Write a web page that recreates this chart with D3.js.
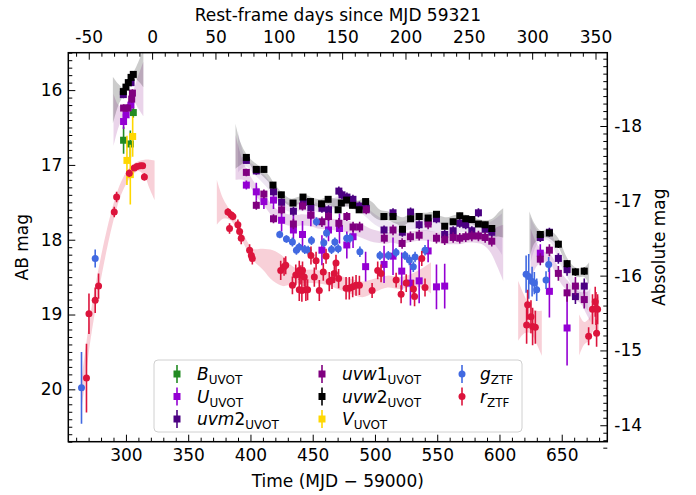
<!DOCTYPE html>
<html>
<head>
<meta charset="utf-8">
<script src="https://cdn.jsdelivr.net/npm/d3@7"></script>
<style>
  body { margin: 0; background: #fff; }
  text { font-family: "DejaVu Sans", sans-serif; fill: #000; }
</style>
</head>
<body>
<svg id="chart" width="696" height="495"></svg>
<script>
'use strict'

// DATA: [MJD - 59000, AB mag, error]
const B_UVOT = [[298.1, 16.67, 0.18], [303.5, 16.72, 0.18], [305.9, 16.30, 0.07]]
const U_UVOT = [
  [298.1, 16.42, 0.1], [300.1, 16.33, 0.07], [304.0, 16.20, 0.08],
  [396.7, 17.27, 0.06], [404.7, 17.36, 0.12], [410.8, 17.49, 0.1], [418.5, 17.47, 0.12],
  [425.0, 17.74, 0.15], [434.5, 17.87, 0.2], [441.8, 17.93, 0.18], [448.5, 17.67, 0.15],
  [457.4, 18.14, 0.2], [462.7, 17.87, 0.15], [471.5, 17.85, 0.2], [477.4, 18.07, 0.18],
  [482.4, 17.96, 0.15], [492.5, 18.36, 0.2], [507.3, 18.33, 0.25], [514.5, 18.22, 0.25],
  [521.5, 18.42, 0.25], [528.5, 18.58, 0.3], [535.5, 18.55, 0.3], [542.7, 18.15, 0.15],
  [549.4, 18.63, 0.3], [556.0, 18.62, 0.3],
  [632.8, 18.18, 0.12], [640.1, 18.69, 0.35], [654.3, 19.18, 0.5]
]
const UVM2_UVOT = [
  [297.9, 16.06, 0.05], [304.1, 15.90, 0.05],
  [396.7, 16.94, 0.04], [404.7, 17.08, 0.05], [418.5, 17.36, 0.05], [425.0, 17.50, 0.05],
  [434.5, 17.62, 0.06], [442.5, 17.50, 0.05], [448.5, 17.57, 0.05], [457.4, 17.58, 0.06],
  [462.7, 17.60, 0.06], [471.0, 17.35, 0.06], [473.5, 17.40, 0.06], [477.5, 17.43, 0.06],
  [482.3, 17.46, 0.06], [487.5, 17.55, 0.06], [493.0, 17.58, 0.06], [507.3, 17.87, 0.06],
  [514.5, 17.64, 0.06], [522.0, 17.90, 0.06], [528.6, 17.63, 0.06], [535.5, 17.80, 0.06],
  [542.7, 17.76, 0.06], [549.4, 17.72, 0.06], [556.0, 17.93, 0.06], [562.8, 17.88, 0.06],
  [568.1, 17.78, 0.06], [572.9, 17.80, 0.06], [577.8, 17.88, 0.06], [583.1, 17.64, 0.06],
  [588.5, 17.86, 0.06], [593.8, 17.90, 0.06],
  [632.8, 17.97, 0.06], [640.1, 17.90, 0.06], [647.3, 18.25, 0.07], [654.3, 18.40, 0.08],
  [661.0, 18.76, 0.1], [668.1, 18.62, 0.1]
]
const UVW1_UVOT = [
  [298.1, 16.24, 0.05], [301.3, 16.24, 0.05], [304.6, 16.12, 0.05], [305.2, 16.04, 0.05],
  [396.7, 17.10, 0.05], [404.7, 17.54, 0.06], [410.8, 17.39, 0.06], [418.5, 17.72, 0.06],
  [425.0, 17.60, 0.06], [434.5, 17.79, 0.07], [441.8, 17.55, 0.06], [448.5, 17.67, 0.06],
  [457.4, 17.76, 0.07], [462.7, 17.69, 0.06], [471.0, 17.78, 0.07], [477.4, 17.69, 0.06],
  [482.4, 17.83, 0.07], [487.7, 17.83, 0.07], [493.0, 17.60, 0.06], [507.5, 17.98, 0.07],
  [514.5, 17.87, 0.07], [521.8, 18.05, 0.07], [528.5, 17.96, 0.07], [535.5, 17.94, 0.07],
  [542.7, 17.79, 0.07], [549.4, 17.98, 0.07], [556.0, 18.00, 0.07], [562.8, 17.97, 0.07],
  [568.1, 17.98, 0.07], [572.9, 17.96, 0.07], [577.8, 17.95, 0.07], [583.1, 17.95, 0.07],
  [588.5, 17.97, 0.07], [593.8, 18.02, 0.07],
  [632.8, 18.26, 0.08], [640.1, 18.14, 0.08], [647.3, 18.45, 0.1], [654.3, 18.71, 0.12],
  [661.0, 18.62, 0.12], [668.1, 18.80, 0.12]
]
const UVW2_UVOT = [
  [297.9, 16.02, 0.04], [300.0, 15.96, 0.04], [301.9, 15.90, 0.04], [304.1, 15.83, 0.04], [305.9, 15.79, 0.04],
  [396.7, 16.90, 0.04], [404.7, 17.06, 0.04], [410.8, 17.06, 0.04], [418.1, 17.27, 0.04],
  [424.8, 17.40, 0.04], [434.2, 17.51, 0.04], [442.2, 17.43, 0.04], [448.2, 17.49, 0.04],
  [457.1, 17.52, 0.04], [462.4, 17.46, 0.04], [470.4, 17.60, 0.04], [473.0, 17.51, 0.04],
  [477.2, 17.47, 0.04], [482.0, 17.54, 0.04], [487.3, 17.60, 0.04], [492.5, 17.49, 0.04],
  [507.2, 17.69, 0.04], [514.5, 17.69, 0.04], [522.1, 17.86, 0.04], [528.6, 17.72, 0.04],
  [535.5, 17.69, 0.04], [542.7, 17.71, 0.04], [549.4, 17.66, 0.04], [556.0, 17.82, 0.04],
  [562.8, 17.76, 0.04], [568.1, 17.68, 0.04], [572.9, 17.72, 0.04], [577.8, 17.73, 0.04],
  [583.1, 17.79, 0.04], [588.5, 17.80, 0.04], [593.8, 17.85, 0.04],
  [632.8, 17.93, 0.04], [640.1, 17.91, 0.04], [647.3, 18.06, 0.05], [654.3, 18.32, 0.05],
  [661.0, 18.43, 0.05], [668.1, 18.42, 0.05]
]
const V_UVOT = [[300.8, 16.94, 0.33], [303.5, 17.13, 0.4], [305.4, 16.62, 0.27]]
const g_ZTF = [
  [264.3, 19.98, 0.48], [275.3, 18.25, 0.12],
  [423.5, 17.93, 0.05], [428.9, 17.99, 0.05], [433.7, 18.03, 0.06], [436.9, 18.14, 0.06],
  [439.1, 18.10, 0.06], [443.6, 18.13, 0.06], [446.3, 18.14, 0.06], [449.0, 18.01, 0.06],
  [453.0, 17.76, 0.06], [458.9, 18.04, 0.06], [461.1, 17.91, 0.06], [465.1, 18.13, 0.06],
  [467.8, 18.03, 0.06], [470.5, 18.12, 0.06], [477.3, 17.98, 0.06], [479.9, 17.98, 0.06],
  [487.9, 18.16, 0.07], [504.0, 18.21, 0.06], [510.7, 18.21, 0.06], [516.9, 18.17, 0.06],
  [524.1, 18.21, 0.06], [527.6, 18.27, 0.07], [530.8, 18.36, 0.07], [532.2, 18.23, 0.07],
  [540.2, 18.14, 0.07],
  [621.4, 18.46, 0.25], [623.5, 18.49, 0.3], [626.2, 18.56, 0.2], [628.0, 18.58, 0.15],
  [629.9, 18.67, 0.15], [637.4, 18.54, 0.12], [639.5, 18.33, 0.1]
]
const r_ZTF = [
  [268.3, 19.85, 0.46], [270.3, 18.99, 0.27], [275.3, 18.81, 0.17], [278.0, 18.62, 0.17],
  [290.6, 17.63, 0.07], [292.5, 17.43, 0.07], [302.7, 17.11, 0.05], [306.7, 17.04, 0.04],
  [308.9, 17.02, 0.03], [311.6, 17.01, 0.03], [313.4, 17.01, 0.03], [314.8, 17.16, 0.05],
  [381.9, 17.63, 0.05], [383.2, 17.85, 0.07], [384.6, 17.67, 0.05], [385.9, 17.69, 0.05],
  [389.9, 17.80, 0.07], [391.3, 17.89, 0.07], [392.6, 17.98, 0.08], [399.3, 18.14, 0.08],
  [400.7, 18.21, 0.08], [401.5, 18.25, 0.08], [424.3, 18.41, 0.13], [427.0, 18.36, 0.12],
  [428.3, 18.34, 0.12], [433.7, 18.61, 0.12], [436.4, 18.47, 0.14], [439.2, 18.41, 0.13],
  [439.2, 18.67, 0.15], [440.5, 18.47, 0.13], [441.3, 18.68, 0.15], [441.8, 18.41, 0.12],
  [443.2, 18.50, 0.13], [444.5, 18.67, 0.15], [445.9, 18.67, 0.14], [448.6, 18.21, 0.12],
  [451.3, 18.50, 0.13], [452.7, 18.28, 0.12], [455.3, 18.68, 0.14], [458.5, 18.43, 0.12],
  [460.7, 18.22, 0.1], [463.3, 18.56, 0.13], [465.5, 18.54, 0.12], [467.4, 18.45, 0.13],
  [468.7, 18.31, 0.11], [470.8, 18.52, 0.13], [476.8, 18.65, 0.15], [479.4, 18.65, 0.15],
  [482.1, 18.63, 0.14], [484.8, 18.61, 0.14], [487.5, 18.61, 0.13], [497.7, 18.68, 0.1],
  [502.2, 18.41, 0.12], [504.9, 18.45, 0.12], [517.0, 18.54, 0.1], [521.0, 18.73, 0.12],
  [525.1, 18.58, 0.12], [530.9, 18.66, 0.12], [531.8, 18.76, 0.13], [537.6, 18.25, 0.1],
  [540.2, 18.64, 0.12],
  [621.8, 19.14, 0.25], [622.6, 18.87, 0.2], [625.3, 19.03, 0.22], [626.6, 19.16, 0.25],
  [628.8, 19.17, 0.22], [671.6, 19.29, 0.12], [674.7, 18.93, 0.2], [676.9, 18.83, 0.2],
  [677.5, 18.92, 0.22], [678.0, 19.25, 0.18], [678.8, 18.93, 0.2]
]

// MODEL BANDS: [MJD - 59000, upper mag, lower mag]
const rBands = [
  [[264.5, 19.85, 20.25], [268, 19.4, 19.8], [271, 19.05, 19.4], [275, 18.65, 18.98], [280, 18.22, 18.52],
   [285, 17.84, 18.1], [290, 17.52, 17.74], [295, 17.27, 17.45], [300, 17.1, 17.26], [305, 17.0, 17.14],
   [310, 16.95, 17.08], [315, 16.93, 17.15], [319, 16.93, 17.32], [323, 16.94, 17.47]],
  [[373, 17.2, 17.8], [378, 17.45, 17.72], [384, 17.62, 17.74], [390, 17.78, 17.9], [396, 17.98, 18.1],
   [402, 18.12, 18.27], [410, 18.12, 18.4], [418, 18.14, 18.55], [426, 18.22, 18.62], [432, 18.33, 18.6],
   [440, 18.4, 18.58], [450, 18.4, 18.58], [460, 18.42, 18.6], [470, 18.47, 18.66], [480, 18.52, 18.72],
   [490, 18.56, 18.77], [500, 18.52, 18.7], [510, 18.48, 18.64], [520, 18.5, 18.66], [530, 18.45, 18.63],
   [538, 18.38, 18.64], [545, 18.3, 18.72]],
  [[615, 18.55, 19.35], [620, 18.75, 19.25], [625, 18.9, 19.25], [630, 18.95, 19.4], [634, 18.95, 19.55]],
  [[664, 19.0, 19.55], [668, 19.1, 19.4], [672, 19.05, 19.35], [676, 18.85, 19.2], [680, 18.75, 19.3]]
]
const uvw2Bands = [
  [[289.5, 15.82, 16.45], [294, 15.92, 16.2], [298, 15.97, 16.07], [302, 15.87, 15.93], [306, 15.76, 15.84],
   [310, 15.62, 15.88], [314, 15.45, 15.96]],
  [[388, 16.45, 17.05], [392, 16.7, 17.0], [397, 16.86, 16.95], [402, 16.95, 17.05], [408, 17.03, 17.12],
   [414, 17.12, 17.22], [420, 17.27, 17.37], [426, 17.38, 17.48], [432, 17.45, 17.55], [438, 17.43, 17.53],
   [444, 17.4, 17.5], [450, 17.44, 17.54], [456, 17.46, 17.56], [462, 17.43, 17.53], [468, 17.45, 17.57],
   [474, 17.45, 17.55], [480, 17.46, 17.56], [486, 17.48, 17.6], [492, 17.45, 17.58], [498, 17.5, 17.68],
   [504, 17.6, 17.74], [510, 17.62, 17.74], [516, 17.66, 17.78], [522, 17.7, 17.82], [528, 17.66, 17.76],
   [534, 17.64, 17.74], [540, 17.64, 17.74], [546, 17.63, 17.73], [552, 17.68, 17.78], [558, 17.7, 17.8],
   [564, 17.67, 17.77], [570, 17.66, 17.76], [576, 17.68, 17.78], [582, 17.72, 17.82], [588, 17.74, 17.86],
   [594, 17.72, 17.95], [600, 17.62, 17.96], [603, 17.58, 17.97]],
  [[624, 17.62, 18.25], [628, 17.78, 18.05], [633, 17.88, 17.98], [638, 17.87, 17.97], [643, 17.9, 18.02],
   [648, 18.0, 18.12], [653, 18.2, 18.32], [658, 18.33, 18.45], [663, 18.38, 18.5], [668, 18.37, 18.5],
   [672, 18.3, 18.6]]
]
const uvw1Bands = [
  [[290, 16.05, 16.75], [294, 16.2, 16.5], [298, 16.22, 16.35], [302, 16.15, 16.25], [306, 16.0, 16.15],
   [310, 15.8, 16.25], [314, 15.62, 16.35]],
  [[388, 16.6, 17.2], [394, 16.95, 17.2], [400, 17.15, 17.3], [406, 17.3, 17.45], [412, 17.42, 17.57],
   [418, 17.55, 17.7], [424, 17.62, 17.77], [430, 17.66, 17.81], [436, 17.67, 17.82], [442, 17.66, 17.81],
   [448, 17.67, 17.82], [454, 17.7, 17.85], [460, 17.71, 17.86], [466, 17.72, 17.87], [472, 17.74, 17.89],
   [478, 17.74, 17.9], [484, 17.78, 17.94], [490, 17.8, 17.98], [496, 17.85, 18.02], [502, 17.88, 18.04],
   [508, 17.9, 18.05], [514, 17.9, 18.04], [520, 17.92, 18.06], [526, 17.9, 18.04], [532, 17.88, 18.02],
   [538, 17.87, 18.01], [544, 17.88, 18.02], [550, 17.9, 18.04], [556, 17.92, 18.06], [562, 17.92, 18.06],
   [568, 17.92, 18.06], [574, 17.9, 18.04], [580, 17.9, 18.04], [586, 17.9, 18.06], [592, 17.88, 18.15],
   [598, 17.83, 18.35], [603, 17.8, 18.55]],
  [[625, 17.85, 18.55], [630, 18.05, 18.35], [635, 18.15, 18.3], [640, 18.18, 18.3], [645, 18.3, 18.45],
   [650, 18.45, 18.6], [655, 18.55, 18.7], [660, 18.65, 18.8], [665, 18.7, 18.85], [670, 18.7, 19.0],
   [673, 18.65, 19.1]]
]
const uvm2Bands = [
  [[390, 16.55, 17.1], [396, 16.9, 17.02], [404, 17.02, 17.14], [412, 17.15, 17.28], [420, 17.32, 17.45],
   [430, 17.5, 17.62], [440, 17.5, 17.62], [450, 17.5, 17.62], [460, 17.52, 17.64], [470, 17.42, 17.56],
   [480, 17.44, 17.58], [490, 17.52, 17.66], [500, 17.66, 17.8], [510, 17.75, 17.88], [520, 17.76, 17.9],
   [530, 17.72, 17.86], [540, 17.74, 17.88], [550, 17.76, 17.9], [560, 17.8, 17.94], [570, 17.76, 17.9],
   [580, 17.76, 17.9], [590, 17.78, 17.95], [602, 17.65, 18.2]],
  [[625, 17.7, 18.3], [632, 17.9, 18.02], [640, 17.9, 18.02], [648, 18.15, 18.3], [656, 18.4, 18.55],
   [664, 18.6, 18.78], [671, 18.55, 18.95]]
]

// AXIS CONSTANTS
const xDomain = [253.7, 686.6]
const yDomain = [15.5, 20.7]
const bottomTicks = [300, 350, 400, 450, 500, 550, 600, 650]
const topTicks = [-50, 0, 50, 100, 150, 200, 250, 300, 350]
const leftTicks = [16, 17, 18, 19, 20]
const rightTicks = [-18, -17, -16, -15, -14]
const refMJD = 321
const redshift = 0.0175
const distMod = 34.48

// CHART FRAME
const frame = {left: 68.3, right: 607.3, top: 52.7, bottom: 441.7}
const fontSize = 17

const xScale = d3.scaleLinear(xDomain, [frame.left, frame.right])
const yScale = d3.scaleLinear(yDomain, [frame.top, frame.bottom])
const xTopScale = d3.scaleLinear(xDomain.map(d => (d - refMJD) / (1 + redshift)), [frame.left, frame.right])
const yAbsScale = d3.scaleLinear(yDomain.map(d => d - distMod), [frame.top, frame.bottom])

const svg = d3.select('#chart')

svg.append('defs').append('clipPath').attr('id', 'plot-clip')
  .append('rect')
  .attr('x', frame.left).attr('y', frame.top)
  .attr('width', frame.right - frame.left).attr('height', frame.bottom - frame.top)

const plot = svg.append('g').attr('clip-path', 'url(#plot-clip)')

// DRAW MODEL BANDS
const area = d3.area()
  .x(d => xScale(d[0]))
  .y0(d => yScale(d[1]))
  .y1(d => yScale(d[2]))
  .curve(d3.curveCatmullRom)

function drawBands(bands, color, opacity) {
  plot.append('g')
    .selectAll('path')
    .data(bands)
    .enter()
    .append('path')
    .attr('d', area)
    .style('fill', color)
    .style('fill-opacity', opacity)
}

drawBands(rBands, '#dc143c', 0.2)
drawBands(uvw1Bands, '#800080', 0.17)
drawBands(uvm2Bands, '#4b0082', 0.1)
drawBands(uvw2Bands, '#000000', 0.2)

// DRAW POINTS WITH ERROR BARS
const series = [
  {data: B_UVOT, color: '#228b22', shape: 'square', name: 'B', digit: '', sub: 'UVOT'},
  {data: U_UVOT, color: '#9400d3', shape: 'square', name: 'U', digit: '', sub: 'UVOT'},
  {data: UVM2_UVOT, color: '#4b0082', shape: 'square', name: 'uvm', digit: '2', sub: 'UVOT'},
  {data: UVW1_UVOT, color: '#800080', shape: 'square', name: 'uvw', digit: '1', sub: 'UVOT'},
  {data: UVW2_UVOT, color: '#000000', shape: 'square', name: 'uvw', digit: '2', sub: 'UVOT'},
  {data: V_UVOT, color: '#ffd700', shape: 'square', name: 'V', digit: '', sub: 'UVOT'},
  {data: g_ZTF, color: '#4169e1', shape: 'circle', name: 'g', digit: '', sub: 'ZTF'},
  {data: r_ZTF, color: '#dc143c', shape: 'circle', name: 'r', digit: '', sub: 'ZTF'}
]

const markerSize = 7

function drawMarker(sel, shape, color) {
  if (shape === 'square') {
    sel.append('rect')
      .attr('x', -markerSize / 2).attr('y', -markerSize / 2)
      .attr('width', markerSize).attr('height', markerSize)
      .style('fill', color)
  } else {
    sel.append('circle').attr('r', 3.5).style('fill', color)
  }
}

series.forEach(s => {
  const g = plot.append('g')
  g.selectAll('.err')
    .data(s.data)
    .enter()
    .append('line')
    .attr('x1', d => xScale(d[0])).attr('x2', d => xScale(d[0]))
    .attr('y1', d => yScale(d[1] - d[2])).attr('y2', d => yScale(d[1] + d[2]))
    .style('stroke', s.color)
    .style('stroke-width', 1.6)
  g.selectAll('.pt')
    .data(s.data)
    .enter()
    .append('g')
    .attr('transform', d => `translate(${xScale(d[0])},${yScale(d[1])})`)
    .each(function () { drawMarker(d3.select(this), s.shape, s.color) })
})

// AXES
function styleAxis(sel) {
  sel.select('.domain').remove()
  sel.selectAll('line').style('stroke', '#000').style('stroke-width', 1)
  sel.selectAll('text').style('font-size', `${fontSize}px`).style('font-family', '"DejaVu Sans", sans-serif')
}

const fmt = d => String(d)
const minorX = d3.range(260, 690, 10).filter(d => d % 50 !== 0)
const minorTop = d3.range(-60, 370, 10).filter(d => d % 50 !== 0)
const minorY = d3.range(15.5, 20.71, 0.1).map(d => +d.toFixed(1)).filter(d => Math.abs(d - Math.round(d)) > 0.01)
const minorYAbs = d3.range(-19.0, -13.7, 0.1).map(d => +d.toFixed(1)).filter(d => Math.abs(d - Math.round(d)) > 0.01)

svg.append('g').attr('transform', `translate(0,${frame.bottom})`)
  .call(d3.axisBottom(xScale).tickValues(bottomTicks).tickFormat(fmt).tickSize(-7).tickPadding(7))
  .call(styleAxis)
svg.append('g').attr('transform', `translate(0,${frame.bottom})`)
  .call(d3.axisBottom(xScale).tickValues(minorX).tickFormat('').tickSize(-4))
  .call(styleAxis)

svg.append('g').attr('transform', `translate(0,${frame.top})`)
  .call(d3.axisTop(xTopScale).tickValues(topTicks).tickFormat(fmt).tickSize(-7).tickPadding(10))
  .call(styleAxis)
svg.append('g').attr('transform', `translate(0,${frame.top})`)
  .call(d3.axisTop(xTopScale).tickValues(minorTop.filter(d => xTopScale(d) > frame.left && xTopScale(d) < frame.right)).tickFormat('').tickSize(-4))
  .call(styleAxis)

svg.append('g').attr('transform', `translate(${frame.left},0)`)
  .call(d3.axisLeft(yScale).tickValues(leftTicks).tickFormat(fmt).tickSize(-7).tickPadding(6))
  .call(styleAxis)
svg.append('g').attr('transform', `translate(${frame.left},0)`)
  .call(d3.axisLeft(yScale).tickValues(minorY).tickFormat('').tickSize(-4))
  .call(styleAxis)

svg.append('g').attr('transform', `translate(${frame.right},0)`)
  .call(d3.axisRight(yAbsScale).tickValues(rightTicks).tickFormat(fmt).tickSize(-7).tickPadding(7))
  .call(styleAxis)
svg.append('g').attr('transform', `translate(${frame.right},0)`)
  .call(d3.axisRight(yAbsScale).tickValues(minorYAbs).tickFormat('').tickSize(-4))
  .call(styleAxis)

// FRAME
svg.append('rect')
  .attr('x', frame.left).attr('y', frame.top)
  .attr('width', frame.right - frame.left).attr('height', frame.bottom - frame.top)
  .style('fill', 'none').style('stroke', '#000').style('stroke-width', 1.5)

// AXIS LABELS
const midX = (frame.left + frame.right) / 2
const midY = (frame.top + frame.bottom) / 2

svg.append('text').attr('x', midX).attr('y', 487)
  .attr('text-anchor', 'middle').style('font-size', `${fontSize}px`)
  .text('Time (MJD \u2212 59000)')
svg.append('text').attr('x', midX).attr('y', 21)
  .attr('text-anchor', 'middle').style('font-size', `${fontSize}px`)
  .text('Rest-frame days since MJD 59321')
svg.append('text')
  .attr('transform', `translate(28,${midY}) rotate(-90)`)
  .attr('text-anchor', 'middle').style('font-size', `${fontSize}px`)
  .text('AB mag')
svg.append('text')
  .attr('transform', `translate(665,${midY}) rotate(-90)`)
  .attr('text-anchor', 'middle').style('font-size', `${fontSize}px`)
  .text('Absolute mag')

// LEGEND
const legend = svg.append('g')
legend.append('rect')
  .attr('x', 154).attr('y', 360).attr('width', 368).attr('height', 72)
  .attr('rx', 4)
  .style('fill', '#fff').style('fill-opacity', 0.8)
  .style('stroke', '#d0d0d0').style('stroke-width', 1)

const colX = [177, 322, 462]
const rowY = [374, 396.5, 419]

series.forEach((s, i) => {
  const col = Math.floor(i / 3)
  const row = i % 3
  const item = legend.append('g').attr('transform', `translate(${colX[col]},${rowY[row]})`)
  item.append('line')
    .attr('y1', -9).attr('y2', 9)
    .style('stroke', s.color).style('stroke-width', 1.6)
  drawMarker(item, s.shape, s.color)
  const label = item.append('text')
    .attr('x', s.sub === 'ZTF' ? 18 : 20).attr('y', 6)
    .style('font-size', `${fontSize}px`)
  label.append('tspan').style('font-style', 'italic').text(s.name)
  if (s.digit) label.append('tspan').text(s.digit)
  label.append('tspan').attr('dy', 4).style('font-size', '12px').text(s.sub)
})
</script>
</body>
</html>
